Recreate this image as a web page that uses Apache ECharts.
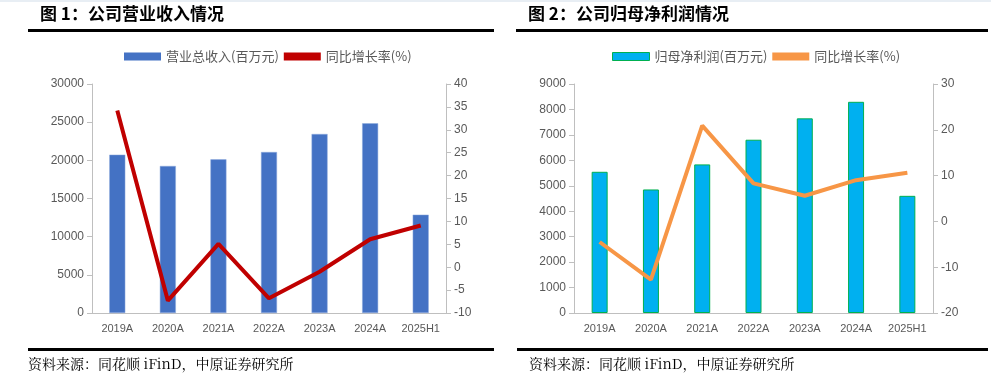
<!DOCTYPE html>
<html><head><meta charset="utf-8">
<script src="https://cdn.jsdelivr.net/npm/echarts@6/dist/echarts.min.js"></script>
<style>html,body{margin:0;padding:0;background:#fff}#c{width:991px;height:381px}</style>
</head><body><div id="c"></div>
<script>
const categories = ['2019A','2020A','2021A','2022A','2023A','2024A','2025H1'];
const revenue = [20740, 19260, 20130, 21090, 23450, 24850, 12880];
const revenueGrowth = [34.2, -7.3, 5.1, -6.8, -1.0, 6.1, 9.1];
const netProfit = [5550, 4855, 5840, 6810, 7650, 8300, 4605];
const profitGrowth = [-4.5, -12.7, 20.9, 8.3, 5.6, 9.0, 10.6];
const title1 = '图 1：公司营业收入情况';
const title2 = '图 2：公司归母净利润情况';
const source = '资料来源：同花顺 iFinD，中原证券研究所';

const chart = echarts.init(document.getElementById('c'));
const lab = {color:'#595959', fontSize:12, fontFamily:'Liberation Sans, Arial'};
const axLine = {show:true, lineStyle:{color:'#BFBFBF', width:1}};
function yAxis(gi, min, max, interval, pos){
  return {gridIndex:gi, type:'value', min, max, interval, position:pos,
    axisLine:axLine, axisTick:{show:true, length:5, lineStyle:{color:'#BFBFBF'}},
    splitLine:{show:false}, axisLabel:Object.assign({margin:8, formatter:v=>String(v)}, lab)};
}
function xAxis(gi){
  return {gridIndex:gi, type:'category', data:categories,
    axisLine:axLine, axisTick:{show:false},
    axisLabel:{color:'#595959', fontSize:11, fontFamily:'Liberation Sans Narrow, Liberation Sans', margin:10}};
}
chart.setOption({
  animation:false,
  textStyle:{fontFamily:'Noto Sans CJK SC'},
  grid:[{left:92, top:84, width:354, height:229},{left:574, top:84, width:359, height:229}],
  xAxis:[xAxis(0), xAxis(1)],
  yAxis:[yAxis(0,0,30000,5000,'left'), yAxis(0,-10,40,5,'right'),
         yAxis(1,0,9000,1000,'left'), yAxis(1,-20,30,10,'right')],
  legend:[
    {left:119, top:45, itemWidth:37, itemHeight:8, itemGap:5,
     textStyle:{color:'#595959', fontSize:13, fontFamily:'Noto Sans CJK SC'},
     data:[{name:'营业总收入(百万元)', icon:'rect', itemStyle:{color:'#4472C4', borderWidth:0}},
           {name:'同比增长率(%)', icon:'rect', itemStyle:{color:'#C00000', borderWidth:0}}]},
    {left:607, top:45, itemWidth:37, itemHeight:8, itemGap:5,
     textStyle:{color:'#595959', fontSize:13, fontFamily:'Noto Sans CJK SC'},
     data:[{name:'归母净利润(百万元)', icon:'rect', itemStyle:{color:'#00B0F0', borderColor:'#00B050', borderWidth:1}},
           {name:'同比增长率 (%)', icon:'rect', itemStyle:{color:'#F79646', borderWidth:0}}],
     formatter:n=>n.replace(' ','')}
  ],
  series:[
    {name:'营业总收入(百万元)', type:'bar', xAxisIndex:0, yAxisIndex:0, data:revenue, barWidth:16,
     itemStyle:{color:'#4472C4', borderColor:'#8FAADC', borderWidth:0.5}},
    {name:'同比增长率(%)', type:'line', xAxisIndex:0, yAxisIndex:1, data:revenueGrowth, symbol:'none',
     lineStyle:{color:'#C00000', width:4}, itemStyle:{color:'#C00000'}},
    {name:'归母净利润(百万元)', type:'bar', xAxisIndex:1, yAxisIndex:2, data:netProfit, barWidth:16,
     itemStyle:{color:'#00B0F0', borderColor:'#00B050', borderWidth:1}},
    {name:'同比增长率 (%)', type:'line', xAxisIndex:1, yAxisIndex:3, data:profitGrowth, symbol:'none',
     lineStyle:{color:'#F79646', width:4}, itemStyle:{color:'#F79646'}}
  ],
  graphic:[
    {type:'rect', shape:{x:0,y:0,width:991,height:2}, style:{fill:'#E8EEF4'}},
    {type:'text', left:40, top:5, style:{text:title1, font:'bold 17px "Noto Sans CJK SC"', fill:'#000'}},
    {type:'text', left:528, top:5, style:{text:title2, font:'bold 17px "Noto Sans CJK SC"', fill:'#000'}},
    {type:'rect', shape:{x:28,y:29,width:466,height:3}, style:{fill:'#000'}},
    {type:'rect', shape:{x:516,y:29,width:472,height:3}, style:{fill:'#000'}},
    {type:'rect', shape:{x:28,y:348,width:466,height:3}, style:{fill:'#000'}},
    {type:'rect', shape:{x:517,y:348,width:471,height:3}, style:{fill:'#000'}},
    {type:'text', left:28, top:357, style:{text:source, font:'14px "Noto Serif CJK SC", "Noto Sans CJK SC"', fill:'#000'}},
    {type:'text', left:529, top:357, style:{text:source, font:'14px "Noto Serif CJK SC", "Noto Sans CJK SC"', fill:'#000'}}
  ]
});
</script></body></html>
